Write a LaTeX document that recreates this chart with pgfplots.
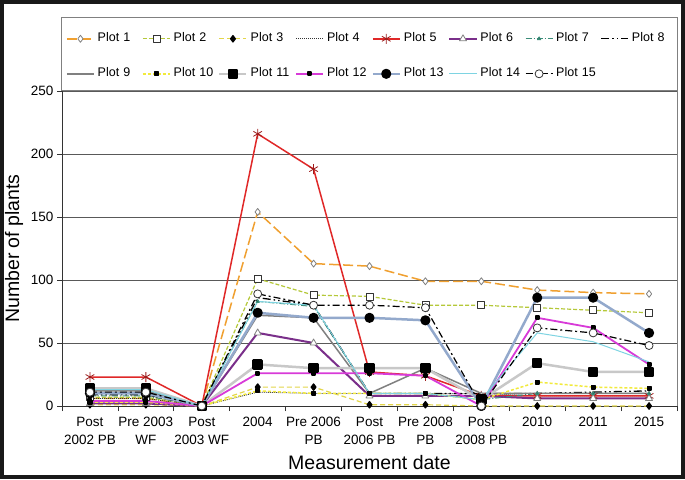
\documentclass[border=0pt]{standalone}
\usepackage{fontspec}
\setmainfont{Liberation Sans}
\usepackage{pgfplots}
\pgfplotsset{compat=1.18}
\definecolor{cP1}{HTML}{F0A030}
\definecolor{cP2}{HTML}{B5C838}
\definecolor{cP3}{HTML}{E3D64A}
\definecolor{cP5}{HTML}{E02828}
\definecolor{cP6}{HTML}{7A2F8A}
\definecolor{cP7}{HTML}{3A8C78}
\definecolor{cP9}{HTML}{808080}
\definecolor{cP10}{HTML}{F2EA3C}
\definecolor{cP11}{HTML}{C8C8C8}
\definecolor{cP12}{HTML}{D83AD8}
\definecolor{cP13}{HTML}{93A9CC}
\definecolor{cP14}{HTML}{7ED4E2}
\begin{document}
\begin{tikzpicture}[x=1pt,y=1pt]
\useasboundingbox (0,0) rectangle (685,479);
\fill[white] (0,0) rectangle (685,479);
\begin{axis}[
  at={(62pt,73pt)}, anchor=south west,
  scale only axis, width=615pt, height=315pt,
  xmin=-0.5, xmax=10.5, ymin=0, ymax=250,
  clip=false,
  axis x line*=bottom, axis y line*=left,
  axis line style={black!80, line width=0.9pt},
  tick align=outside,
  xtick={0,...,10},
  xticklabels={{Post\\2002 PB},{Pre 2003\\WF},{Post\\2003 WF},{2004},{Pre 2006\\PB},{Post\\2006 PB},{Pre 2008\\PB},{Post\\2008 PB},{2010},{2011},{2015}},
  xticklabel style={align=center, anchor=north, font=\fontsize{13.5}{18}\selectfont, yshift=-3pt},
  major x tick style={draw=none},
  minor xtick={-0.5,0.5,...,10.5},
  minor tick length=5pt,
  minor tick style={black!80, line width=0.8pt},
  ytick={0,50,...,250},
  major tick length=5pt,
  major y tick style={black!80, line width=0.8pt},
  yticklabel style={font=\fontsize{13.5}{16}\selectfont},
  /pgf/number format/assume math mode=true,
  ymajorgrids,
  major grid style={draw=black!65, line width=0.8pt},
  xlabel={Measurement date},
  ylabel={Number of plants},
  every axis x label/.style={at={(axis description cs:0.5,-0.181)}, anchor=center, font=\fontsize{19.5}{22}\selectfont},
  every axis y label/.style={at={(axis description cs:-0.078,0.5)}, anchor=center, rotate=90, font=\fontsize{19.5}{22}\selectfont},
  legend columns=8,
  legend cell align=left,
  legend image code/.code={\draw[mark repeat=2,mark phase=2,#1] plot coordinates {(0pt,0pt) (13.5pt,0pt) (27pt,0pt)};},
  legend style={at={(0,1)}, anchor=south west, draw=none, fill=none, inner sep=0pt,
    xshift=4pt, yshift=11pt, row sep=23pt,
    font=\fontsize{12.5}{15}\selectfont,
    nodes={text width=41.5pt, inner xsep=3pt, inner ysep=0pt, text height=9pt, text depth=3pt},
    /tikz/every even column/.append style={column sep=0pt}},
  every axis plot/.append style={line join=round},
]
% Plot 1
\addplot[cP1, line width=1.5pt, dash pattern=on 10pt off 4pt, mark=diamond*, mark size=3.5pt, mark options={solid, fill=white, draw=gray, line width=0.8pt}]
  coordinates {(0,6) (1,6) (2,0) (3,154) (4,113) (5,111) (6,99) (7,99) (8,92) (9,90) (10,89)};
\addlegendentry{Plot 1}
% Plot 2
\addplot[cP2, line width=1.2pt, dash pattern=on 4pt off 2pt, mark=square*, mark size=3.5pt, mark options={solid, fill=white, draw=black!80, line width=0.7pt}]
  coordinates {(0,7) (1,7) (2,0) (3,101) (4,88) (5,87) (6,80) (7,80) (8,78) (9,76) (10,74)};
\addlegendentry{Plot 2}
% Plot 3
\addplot[cP3, line width=1.2pt, dash pattern=on 5pt off 3pt, mark=diamond*, mark size=3.2pt, mark options={solid, fill=black, draw=black}]
  coordinates {(0,1) (1,1) (2,0) (3,15) (4,15) (5,1) (6,1) (7,0) (8,0) (9,0) (10,0)};
\addlegendentry{Plot 3}
% Plot 4
\addplot[black!80, line width=0.8pt, dash pattern=on 1pt off 1pt]
  coordinates {(0,6) (1,6) (2,0) (3,11) (4,10) (5,10) (6,10) (7,10) (8,8) (9,8) (10,8)};
\addlegendentry{Plot 4}
% Plot 5
\addplot[cP5, line width=1.5pt, mark=asterisk, mark size=5pt, mark options={solid, draw=cP5!70!black, line width=0.8pt}]
  coordinates {(0,23) (1,23) (2,0) (3,216) (4,188) (5,27) (6,24) (7,8) (8,8) (9,8) (10,8)};
\addlegendentry{Plot 5}
% Plot 6
\addplot[cP6, line width=2pt, mark=triangle*, mark size=4pt, mark options={solid, fill=white, draw=gray, line width=0.8pt}]
  coordinates {(0,2) (1,2) (2,0) (3,58) (4,50) (5,8) (6,8) (7,8) (8,6) (9,6) (10,6)};
\addlegendentry{Plot 6}
% Plot 7
\addplot[cP7, line width=1pt, dash pattern=on 6pt off 2pt on 1pt off 2pt, mark=triangle*, mark size=1.8pt, mark options={solid, fill=cP7!60!black}]
  coordinates {(0,8) (1,8) (2,0) (3,83) (4,79) (5,10) (6,10) (7,5) (8,10) (9,10) (10,10)};
\addlegendentry{Plot 7}
% Plot 8
\addplot[black, line width=1.3pt, dash pattern=on 8pt off 3pt on 1.5pt off 3pt on 1.5pt off 3pt]
  coordinates {(0,9) (1,9) (2,0) (3,86) (4,80) (5,10) (6,10) (7,10) (8,10) (9,11) (10,12)};
\addlegendentry{Plot 8}
% Plot 9
\addplot[cP9, line width=1.5pt]
  coordinates {(0,12) (1,12) (2,0) (3,72) (4,70) (5,10) (6,30) (7,10) (8,10) (9,10) (10,10)};
\addlegendentry{Plot 9}
% Plot 10
\addplot[cP10, line width=1.5pt, dash pattern=on 3pt off 2pt, mark=square*, mark size=1.8pt, mark options={solid, fill=black, draw=black}]
  coordinates {(0,3) (1,3) (2,0) (3,12) (4,10) (5,10) (6,10) (7,5) (8,19) (9,15) (10,14)};
\addlegendentry{Plot 10}
% Plot 11
\addplot[cP11, line width=2.5pt, mark=square*, mark size=4pt, mark options={solid, fill=black, draw=black}]
  coordinates {(0,14) (1,14) (2,0) (3,33) (4,30) (5,30) (6,30) (7,5) (8,34) (9,27) (10,27)};
\addlegendentry{Plot 11}
% Plot 12
\addplot[cP12, line width=1.8pt, mark=square*, mark size=1.6pt, mark options={solid, fill=black, draw=black}]
  coordinates {(0,4) (1,4) (2,0) (3,26) (4,26) (5,26) (6,24) (7,0) (8,70) (9,62) (10,33)};
\addlegendentry{Plot 12}
% Plot 13
\addplot[cP13, line width=2.5pt, mark=*, mark size=3.8pt, mark options={solid, fill=black, draw=black}]
  coordinates {(0,10) (1,10) (2,0) (3,74) (4,70) (5,70) (6,68) (7,0) (8,86) (9,86) (10,58)};
\addlegendentry{Plot 13}
% Plot 14
\addplot[cP14, line width=1pt]
  coordinates {(0,13) (1,13) (2,0) (3,83) (4,80) (5,10) (6,10) (7,5) (8,58) (9,51) (10,35)};
\addlegendentry{Plot 14}
% Plot 15
\addplot[black, line width=1.2pt, dash pattern=on 7pt off 3pt on 2pt off 3pt, mark=*, mark size=4pt, mark options={solid, fill=white, draw=black!80, line width=0.8pt}]
  coordinates {(0,11) (1,11) (2,0) (3,89) (4,80) (5,80) (6,78) (7,0) (8,62) (9,58) (10,48)};
\addlegendentry{Plot 15}
\draw[gray, line width=0.9pt] (rel axis cs:1,0) -- (rel axis cs:1,1);
\draw[gray, line width=1pt] (rel axis cs:0,1) rectangle ([yshift=73pt]rel axis cs:1,1);
\end{axis}
\draw[black!90, line width=4pt] (2,2) rectangle (683,477);
\end{tikzpicture}
\end{document}
